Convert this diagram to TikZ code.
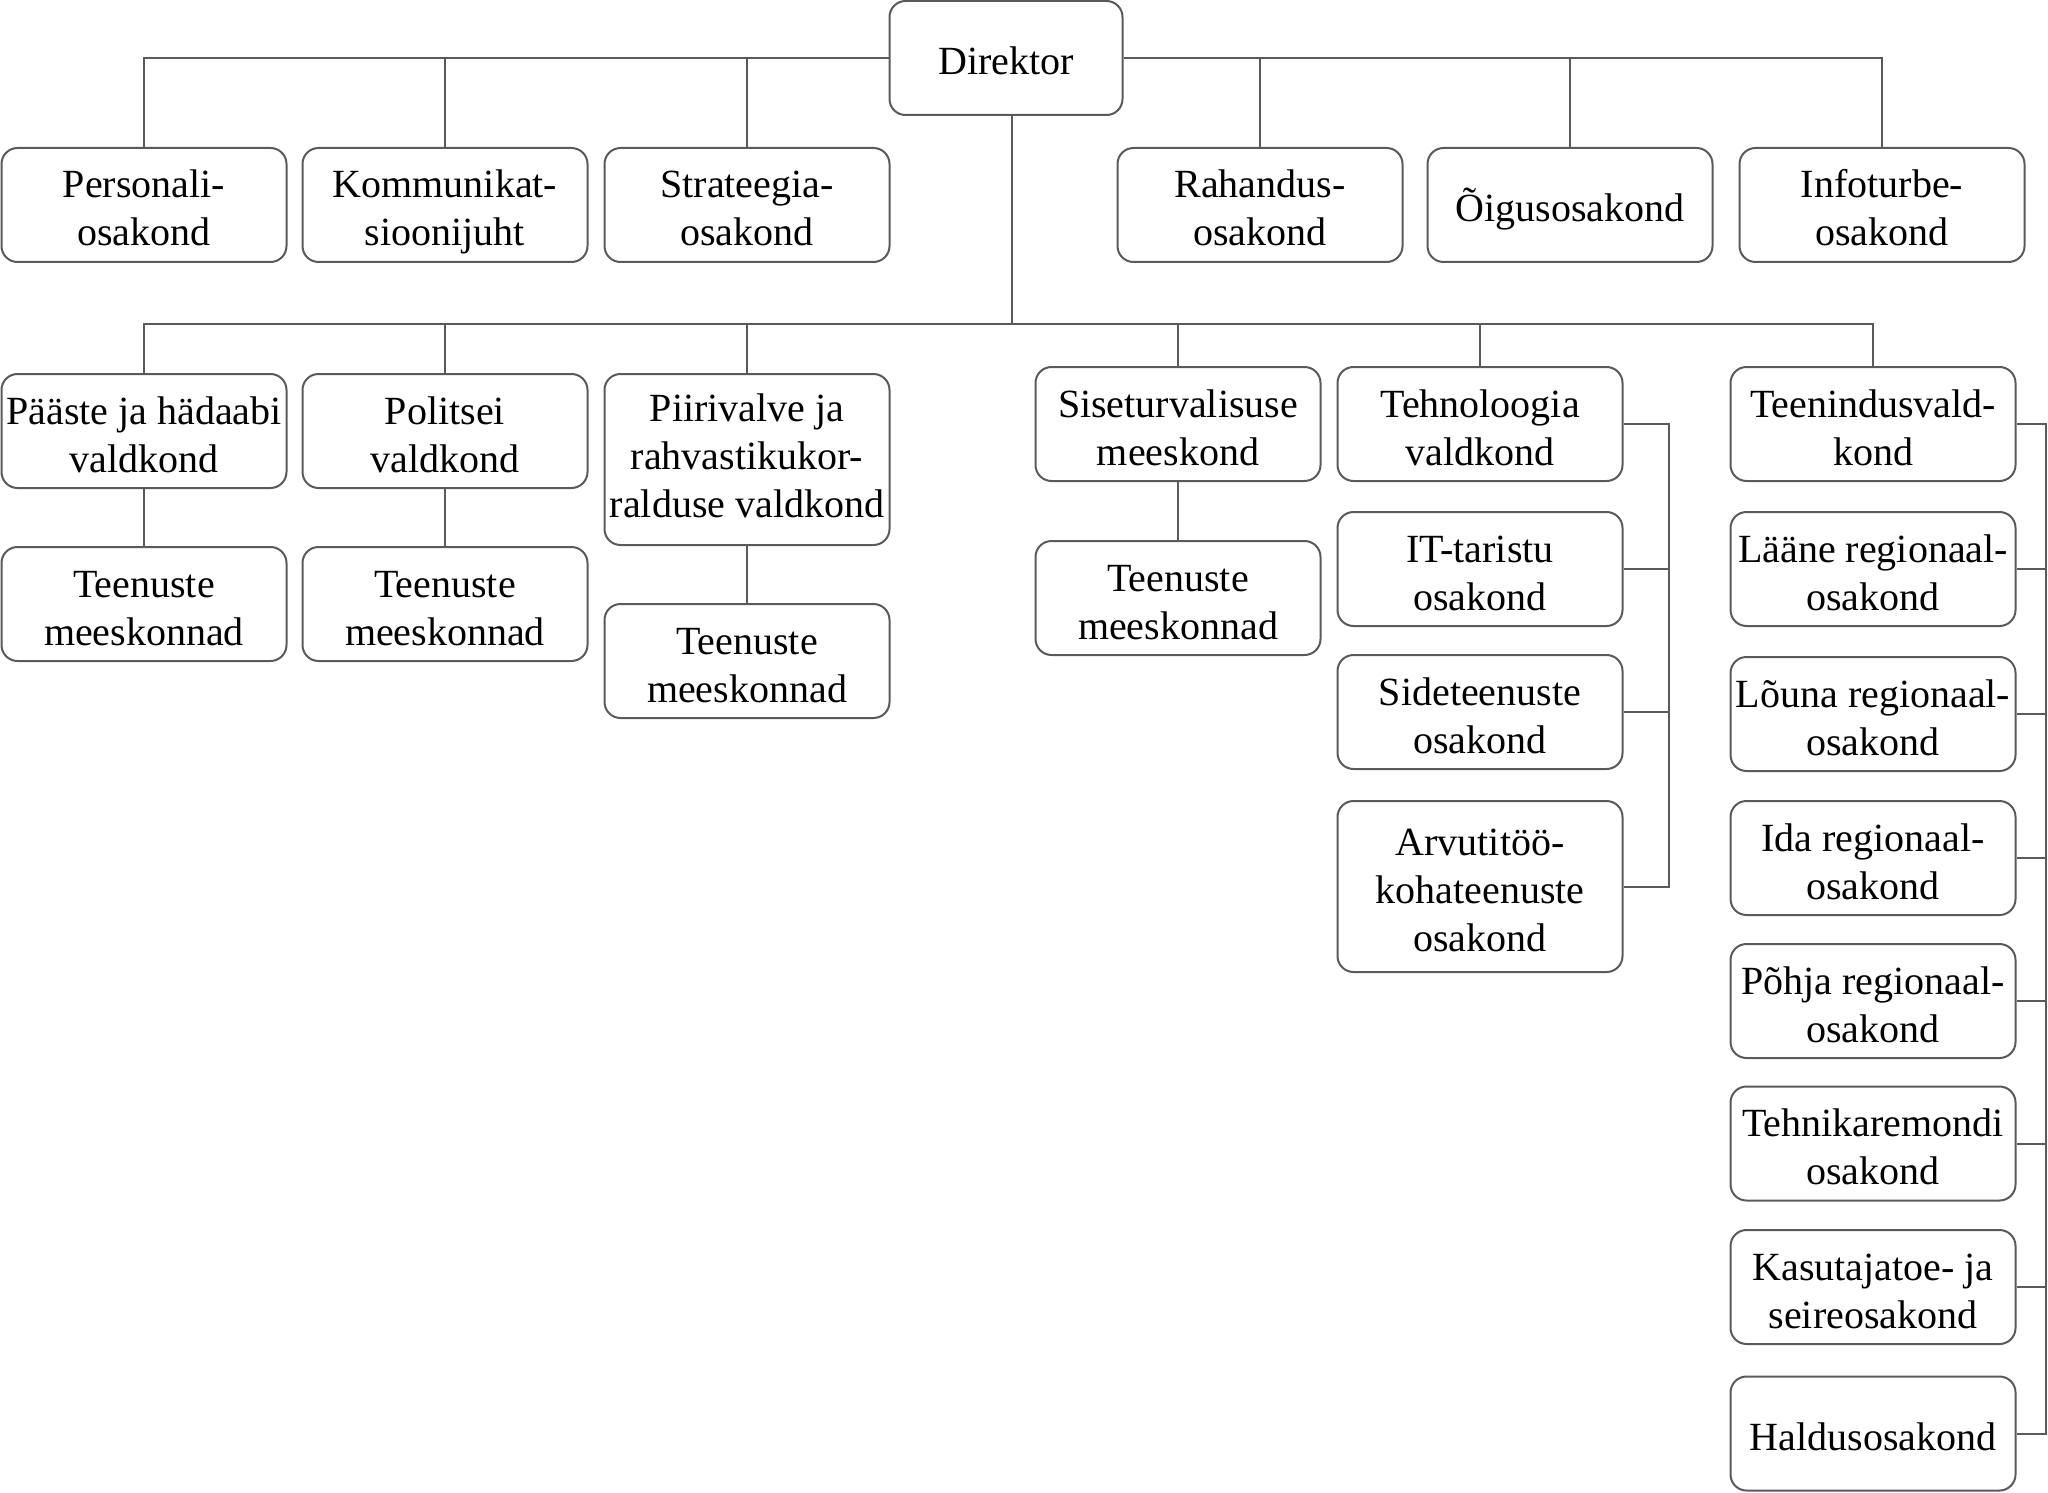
\documentclass[tikz,border=0pt]{standalone}
\usepackage{fontspec}
\setmainfont{Liberation Serif}
\usetikzlibrary{calc}
\definecolor{linegray}{HTML}{5A5A5A}
\newcommand\bs{\rule{0pt}{22pt}}
\newcommand\bss{\rule{0pt}{15pt}}
\newcommand\es{\rule[-5pt]{0pt}{5pt}}
\tikzset{
  orgbox/.style={draw=linegray, line width=1pt, rounded corners=8pt, fill=white,
    minimum width=142.5pt, minimum height=57pt, inner sep=0pt, align=center,
    font=\fontsize{20}{24}\selectfont},
  tallbox/.style={orgbox, minimum height=85.5pt},
  conn/.style={draw=linegray, line width=1pt}
}
\begin{document}
\begin{tikzpicture}[x=0.5pt,y=-0.5pt]
\useasboundingbox (0,0) rectangle (2048,1492);
% director
\node[orgbox, minimum width=116.5pt] (dir) at (1006,58) {\bs Direktor\es};
% top row
\node[orgbox] (pers) at (144,205) {\bs Personali-\\osakond\es};
\node[orgbox] (komm) at (445,205) {\bs Kommunikat-\\sioonijuht\es};
\node[orgbox] (strat) at (747,205) {\bs Strateegia-\\osakond\es};
\node[orgbox] (rah) at (1260,205) {\bs Rahandus-\\osakond\es};
\node[orgbox] (oig) at (1570,205) {\bs Õigusosakond\es};
\node[orgbox] (info) at (1882,205) {\bs Infoturbe-\\osakond\es};
% second row
\node[orgbox] (paa) at (144,431) {\bs Pääste ja hädaabi\\valdkond\es};
\node[orgbox] (pol) at (445,431) {\bs Politsei\\valdkond\es};
\node[tallbox] (pii) at (747,459.5) {\bss Piirivalve ja\\rahvastikukor-\\ralduse valdkond\es};
\node[orgbox] (sis) at (1178,424) {\bs Siseturvalisuse\\meeskond\es};
\node[orgbox] (teh) at (1480,424) {\bs Tehnoloogia\\valdkond\es};
\node[orgbox] (tee) at (1873,424) {\bs Teenindusvald-\\kond\es};
% third row
\node[orgbox] (paat) at (144,604) {\bs Teenuste\\meeskonnad\es};
\node[orgbox] (polt) at (445,604) {\bs Teenuste\\meeskonnad\es};
\node[orgbox] (piit) at (747,661) {\bs Teenuste\\meeskonnad\es};
\node[orgbox] (sist) at (1178,598) {\bs Teenuste\\meeskonnad\es};
% technology column
\node[orgbox] (it) at (1480,569) {\bs IT-taristu\\osakond\es};
\node[orgbox] (side) at (1480,712) {\bs Sideteenuste\\osakond\es};
\node[tallbox] (arv) at (1480,886.5) {\bs Arvutitöö-\\kohateenuste\\osakond\es};
% service column
\node[orgbox] (laa) at (1873,569) {\bs Lääne regionaal-\\osakond\es};
\node[orgbox] (lou) at (1873,714) {\bs Lõuna regionaal-\\osakond\es};
\node[orgbox] (ida) at (1873,858) {\bs Ida regionaal-\\osakond\es};
\node[orgbox] (poh) at (1873,1001) {\bs Põhja regionaal-\\osakond\es};
\node[orgbox] (tehn) at (1873,1143.5) {\bs Tehnikaremondi\\osakond\es};
\node[orgbox] (kas) at (1873,1287) {\bs Kasutajatoe- ja\\seireosakond\es};
\node[orgbox] (hal) at (1873,1433.5) {\bs Haldusosakond\es};
% coordinates
\coordinate (dbus) at (1012,324);
\coordinate (tbr) at (1669,424);
\coordinate (sbr) at (2046,424);
% top bus
\draw[conn] (dir.west) -| (pers.north);
\draw[conn] (komm.north) -- (komm.north |- dir.west);
\draw[conn] (strat.north) -- (strat.north |- dir.west);
\draw[conn] (dir.east) -| (info.north);
\draw[conn] (rah.north) -- (rah.north |- dir.east);
\draw[conn] (oig.north) -- (oig.north |- dir.east);
% director down
\draw[conn] (dir.south -| dbus) -- (dbus);
\draw[conn] (paa.north) |- (dbus) -| (tee.north);
\draw[conn] (pol.north) -- (pol.north |- dbus);
\draw[conn] (pii.north) -- (pii.north |- dbus);
\draw[conn] (sis.north) -- (sis.north |- dbus);
\draw[conn] (teh.north) -- (teh.north |- dbus);
% sub teams
\draw[conn] (paa) -- (paat);
\draw[conn] (pol) -- (polt);
\draw[conn] (pii) -- (piit);
\draw[conn] (sis) -- (sist);
% technology bracket
\draw[conn] (teh.east) -- (tbr) |- (arv.east);
\draw[conn] (it.east) -- (it.east -| tbr);
\draw[conn] (side.east) -- (side.east -| tbr);
% service bracket
\draw[conn] (tee.east) -- (sbr) |- (hal.east);
\foreach \n in {laa,lou,ida,poh,tehn,kas}
  \draw[conn] (\n.east) -- (\n.east -| sbr);
\end{tikzpicture}
\end{document}
